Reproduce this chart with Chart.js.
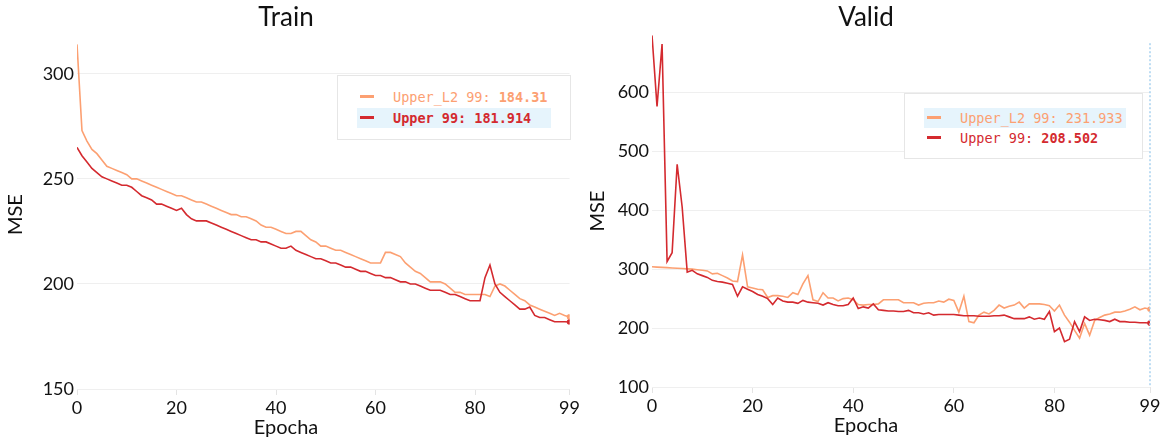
<!DOCTYPE html>
<html>
<head>
<meta charset="utf-8">
<script src="https://cdn.jsdelivr.net/npm/chart.js@4/dist/chart.umd.min.js"></script>
<style>
  body { margin: 0; background: #fff; }
  #wrap { position: relative; width: 1164px; height: 441px; overflow: hidden; }
  canvas { position: absolute; top: 0; }
  .legend { position: absolute; border: 1px solid #e6e6e6; background: #fff;
            font-family: 'DejaVu Sans Mono', monospace; font-size: 13.5px; box-sizing: border-box; }
  .row { position: absolute; height: 20px; }
  .row.hl { background: #e6f4fc; }
  .sw { position: absolute; left: 3px; top: 8px; width: 14px; height: 3px; }
  .txt { position: absolute; left: 36px; top: 0; line-height: 20px; white-space: nowrap; }
</style>
</head>
<body>
<div id="wrap">
  <canvas id="train" width="582" height="441" style="left:0"></canvas>
  <canvas id="valid" width="582" height="441" style="left:582px"></canvas>
  <div class="legend" id="legTrain" style="left:337px;top:75px;width:234px;height:65px"></div>
  <div class="legend" id="legValid" style="left:904px;top:93px;width:239px;height:66px"></div>
</div>
<script>
// epochs and tick labels
var epochs = [];
for (var i = 0; i < 100; i++) epochs.push(i);
var xTicks = [0, 20, 40, 60, 80, 99];
var trainTicks = [150, 200, 250, 300];
var validTicks = [100, 200, 300, 400, 500, 600];

// Train MSE
var trainUpperL2 = [
  314, 273, 268, 264, 262, 259, 256, 255, 254, 253,
  252, 250, 250, 249, 248, 247, 246, 245, 244, 243,
  242, 242, 241, 240, 239, 239, 238, 237, 236, 235,
  234, 233, 233, 232, 232, 231, 230, 228, 227, 227,
  226, 225, 224, 224, 225, 225, 223, 221, 220, 218,
  218, 217, 216, 216, 215, 214, 213, 212, 211, 210,
  210, 210, 215, 215, 214, 213, 210, 208, 206, 205,
  203, 201, 201, 201, 200, 198, 196, 196, 195, 195,
  195, 195, 195, 194, 199, 200, 199, 197, 195, 193,
  192, 190, 189, 188, 187, 186, 185, 186, 185, 184.31
];
var trainUpper = [
  265, 261, 258, 255, 253, 251, 250, 249, 248, 247,
  247, 246, 244, 242, 241, 240, 238, 238, 237, 236,
  235, 236, 233, 231, 230, 230, 230, 229, 228, 227,
  226, 225, 224, 223, 222, 221, 221, 220, 220, 219,
  218, 217, 217, 218, 216, 215, 214, 213, 212, 212,
  211, 210, 210, 209, 208, 208, 207, 206, 206, 205,
  204, 204, 203, 203, 202, 201, 201, 200, 200, 199,
  198, 197, 197, 197, 196, 195, 195, 194, 193, 192,
  192, 192, 203, 209, 200, 196, 194, 192, 190, 188,
  188, 189, 185, 184, 184, 183, 182, 182, 182, 181.914
];

// Valid MSE
var validUpperL2 = [
  304, 303.5, 303, 302.5, 302, 301.5, 301, 300.5, 300, 299,
  298, 297, 292, 293, 289, 285, 280, 279, 324, 270,
  268, 266, 265, 252, 255, 255, 254, 252, 260, 257,
  275, 289, 248, 245, 260, 251, 251, 246, 250, 251,
  248, 240, 239, 240, 240, 241, 248, 248, 248, 248,
  243, 243, 243, 239, 242, 243, 243, 246, 244, 249,
  247, 227, 254, 211, 209, 222, 227, 224, 230, 239,
  234, 237, 239, 244, 234, 241, 241, 241, 240, 238,
  229, 239, 222, 210, 196, 183, 208, 188, 213, 218,
  222, 224, 227, 227, 229, 232, 236, 231, 234, 231.933
];
var validUpper = [
  697, 576, 682, 313, 328, 478, 405, 295, 298, 292,
  289, 286, 281, 279, 278, 276, 274, 254, 270, 266,
  262, 257, 254, 250, 240, 251, 246, 244, 244, 242,
  247, 244, 243, 242, 239, 243, 240, 238, 238, 240,
  251, 233, 236, 234, 241, 231, 230, 229, 229, 228,
  228, 230, 226, 226, 224, 226, 222, 223, 223, 223,
  223, 222, 221, 221, 221, 220, 220, 220, 221, 221,
  222, 219, 216, 216, 216, 219, 215, 217, 215, 228,
  194, 200, 177, 181, 211, 194, 219, 213, 215, 214,
  213, 211, 215, 211, 211, 210, 210, 209, 209, 208.502
];

var ORANGE = '#fca072';
var RED = '#d42a2f';
var axisFont = { family: 'Lato', size: 18 };

function pts(vals) {
  return epochs.map(function(e, i) { return { x: e, y: vals[i] }; });
}
function lastPoint(n) {
  return epochs.map(function(e, i) { return i === epochs.length - 1 ? n : 0; });
}

// dotted hover line at the hovered epoch
var hoverLine = {
  id: 'hoverLine',
  afterDatasetsDraw: function(chart, args, opts) {
    if (opts.epoch == null) return;
    var ctx = chart.ctx, a = chart.chartArea;
    var x = chart.scales.x.getPixelForValue(opts.epoch);
    ctx.save();
    ctx.strokeStyle = '#a9d2f0';
    ctx.lineWidth = 1.5;
    ctx.setLineDash([2, 2]);
    ctx.beginPath();
    ctx.moveTo(x, a.top + 8);
    ctx.lineTo(x, a.bottom);
    ctx.stroke();
    ctx.restore();
  }
};

function makeChart(id, title, red, orange, yMin, yMax, yTicks, cfg) {
  var ctx = document.getElementById(id).getContext('2d');
  return new Chart(ctx, {
    type: 'line',
    data: {
      datasets: [{
        label: 'Upper 99',
        data: pts(red),
        borderColor: RED,
        backgroundColor: RED,
        borderWidth: 1.6,
        pointRadius: lastPoint(2),
        fill: false,
        tension: 0
      }, {
        label: 'Upper_L2 99',
        data: pts(orange),
        borderColor: ORANGE,
        backgroundColor: ORANGE,
        borderWidth: 1.6,
        pointRadius: lastPoint(2),
        fill: false,
        tension: 0
      }]
    },
    options: {
      responsive: false,
      animation: false,
      devicePixelRatio: 1,
      layout: { padding: { left: 0, right: cfg.padRight, top: 0, bottom: cfg.padBottom } },
      plugins: {
        legend: { display: false },
        tooltip: { enabled: false },
        title: {
          display: true, text: title, color: '#111',
          font: { family: 'Lato', size: 26, weight: 'normal' },
          padding: { top: 2, bottom: cfg.titleGap }
        },
        subtitle: {
          display: true, position: 'bottom', text: 'Epocha', color: '#111',
          font: { family: 'Lato', size: 20, weight: 'normal' },
          padding: { top: 0, bottom: 0 }
        },
        hoverLine: { epoch: cfg.hover }
      },
      scales: {
        x: {
          type: 'linear', min: 0, max: 99,
          afterBuildTicks: function(a) { a.ticks = xTicks.map(function(v) { return { value: v }; }); },
          afterFit: function(s) { s.height = 27; },
          ticks: { font: axisFont, color: '#111', padding: 2, maxRotation: 0, autoSkip: false },
          grid: { drawOnChartArea: false, tickLength: 6, color: '#e4e4e4' },
          border: { display: false }
        },
        y: {
          min: yMin, max: yMax,
          afterBuildTicks: function(a) { a.ticks = yTicks.map(function(v) { return { value: v }; }); },
          afterFit: function(s) { s.width = cfg.yWidth; },
          ticks: { font: axisFont, color: '#111', padding: 3 },
          grid: { color: '#efefef', drawTicks: false },
          border: { display: false },
          title: {
            display: true, text: 'MSE', color: '#111',
            font: { family: 'Lato', size: 20, weight: 'normal' },
            padding: { top: 4, bottom: 0 }
          }
        }
      }
    },
    plugins: [hoverLine]
  });
}

makeChart('train', 'Train', trainUpper, trainUpperL2, 150, 316, trainTicks,
  { padRight: 10, padBottom: 1, titleGap: 7, yWidth: 77, hover: null });
makeChart('valid', 'Valid', validUpper, validUpperL2, 100, 697, validTicks,
  { padRight: 14, padBottom: 3, titleGap: 2, yWidth: 70, hover: 99 });

// legends with the value at the last epoch
function legend(id, rows) {
  var box = document.getElementById(id);
  rows.forEach(function(r) {
    var row = document.createElement('div');
    row.className = 'row' + (r.hl ? ' hl' : '');
    row.style.left = '19px';
    row.style.top = r.top + 'px';
    row.style.width = r.w + 'px';
    row.innerHTML = '<span class="sw" style="background:' + r.color + '"></span>' +
      '<span class="txt" style="color:' + r.color + ';font-weight:' + r.nameWeight + '">' + r.name +
      ' <span style="font-weight:' + r.valWeight + '">' + r.value + '</span></span>';
    box.appendChild(row);
  });
}
var last = epochs.length - 1;
legend('legTrain', [
  { name: 'Upper_L2 99:', value: trainUpperL2[last], color: ORANGE, top: 11, w: 194, hl: false, nameWeight: 'normal', valWeight: 'bold' },
  { name: 'Upper 99:', value: trainUpper[last], color: RED, top: 32, w: 194, hl: true, nameWeight: 'bold', valWeight: 'bold' }
]);
legend('legValid', [
  { name: 'Upper_L2 99:', value: validUpperL2[last], color: ORANGE, top: 14, w: 202, hl: true, nameWeight: 'normal', valWeight: 'normal' },
  { name: 'Upper 99:', value: validUpper[last], color: RED, top: 34, w: 202, hl: false, nameWeight: 'normal', valWeight: 'bold' }
]);
</script>
</body>
</html>
